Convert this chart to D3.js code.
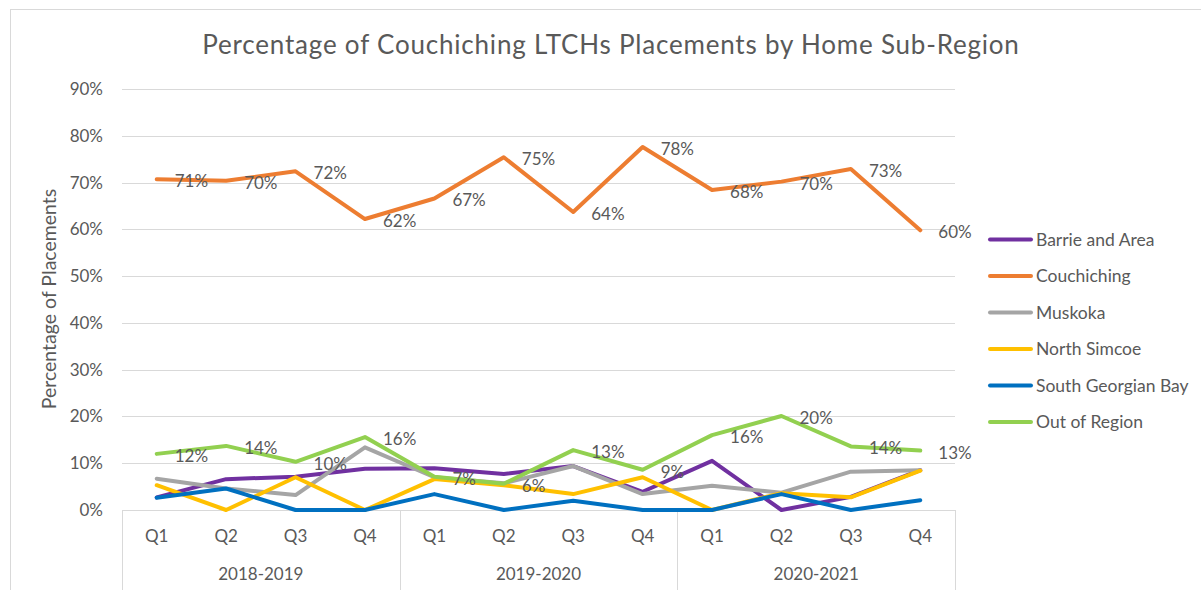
<!DOCTYPE html>
<html>
<head>
<meta charset="utf-8">
<script src="https://cdn.jsdelivr.net/npm/d3@7"></script>
<style>
  body { margin: 0; background: #fff; }
  text { font-family: Lato, "Open Sans", sans-serif; fill: #595959; }
</style>
</head>
<body>
<svg id="chart" width="1201" height="590"></svg>
<script>
const quarters = ["Q1", "Q2", "Q3", "Q4"];
const years = ["2018-2019", "2019-2020", "2020-2021"];
const yTicks = [0, 10, 20, 30, 40, 50, 60, 70, 80, 90];

// percent values
const barrie      = [2.7, 6.6, 7.1, 8.8, 8.9, 7.7, 9.4, 3.9, 10.5, 0, 2.8, 8.5];
const couchiching = [70.7, 70.4, 72.4, 62.2, 66.6, 75.4, 63.7, 77.6, 68.4, 70.2, 72.9, 59.8];
const muskoka     = [6.7, 4.6, 3.2, 13.4, 7.0, 5.7, 9.4, 3.4, 5.2, 3.7, 8.2, 8.5];
const northSimcoe = [5.3, 0, 7.0, 0, 6.6, 5.3, 3.4, 7.0, 0, 3.6, 2.7, 8.4];
const southGB     = [2.6, 4.6, 0, 0, 3.4, 0, 2.0, 0, 0, 3.4, 0, 2.1];
const outRegion   = [12.0, 13.7, 10.3, 15.6, 7.1, 5.6, 12.8, 8.6, 16.0, 20.1, 13.6, 12.7];

const series = [
  { name: "Barrie and Area", values: barrie, color: "#7030A0", labels: false },
  { name: "Couchiching", values: couchiching, color: "#ED7D31", labels: true },
  { name: "Muskoka", values: muskoka, color: "#A5A5A5", labels: false },
  { name: "North Simcoe", values: northSimcoe, color: "#FFC000", labels: false },
  { name: "South Georgian Bay", values: southGB, color: "#0070C0", labels: false },
  { name: "Out of Region", values: outRegion, color: "#92D050", labels: true }
];

const cats = [];
years.forEach(y => quarters.forEach(q => cats.push(y + " " + q)));

const svg = d3.select("#chart");

// outer frame
svg.append("rect")
  .attr("x", 10.5).attr("y", 9.5)
  .attr("width", 1300).attr("height", 700)
  .attr("fill", "none").attr("stroke", "#d9d9d9");

const plotLeft = 122, plotRight = 955, plotTop = 89, plotBottom = 510;

const x = d3.scaleBand().domain(cats).range([plotLeft, plotRight]);
const y = d3.scaleLinear().domain([0, 90]).range([plotBottom, plotTop]);
const cx = i => x(cats[i]) + x.bandwidth() / 2;

// gridlines
svg.append("g")
  .selectAll("line")
  .data(yTicks.filter(d => d > 0))
  .join("line")
  .attr("x1", plotLeft).attr("x2", plotRight)
  .attr("y1", d => Math.round(y(d)) + 0.5).attr("y2", d => Math.round(y(d)) + 0.5)
  .attr("stroke", "#d9d9d9");

// y tick labels
svg.append("g")
  .selectAll("text")
  .data(yTicks)
  .join("text")
  .attr("x", 103)
  .attr("y", d => y(d))
  .attr("dy", "0.35em")
  .attr("text-anchor", "end")
  .style("font-size", "17px")
  .text(d => d + "%");

// y axis title
svg.append("text")
  .attr("transform", "translate(56,299) rotate(-90)")
  .attr("text-anchor", "middle")
  .style("font-size", "19.5px")
  .text("Percentage of Placements");

// title
svg.append("text")
  .attr("x", 611).attr("y", 54)
  .attr("text-anchor", "middle")
  .style("font-size", "26px")
  .style("letter-spacing", "0.8px")
  .text("Percentage of Couchiching LTCHs Placements by Home Sub-Region");

// category axis
const axis = svg.append("g").attr("stroke", "#d9d9d9").attr("fill", "none");
axis.append("line")
  .attr("x1", plotLeft).attr("x2", plotRight)
  .attr("y1", plotBottom + 0.5).attr("y2", plotBottom + 0.5);
d3.range(years.length + 1).forEach(k => {
  const xx = k < years.length ? x(cats[k * 4]) : plotRight;
  axis.append("line")
    .attr("x1", Math.round(xx) + 0.5).attr("x2", Math.round(xx) + 0.5)
    .attr("y1", plotBottom).attr("y2", 600);
});

svg.append("g")
  .selectAll("text")
  .data(cats)
  .join("text")
  .attr("x", (d, i) => cx(i))
  .attr("y", 536)
  .attr("dy", "0.35em")
  .attr("text-anchor", "middle")
  .style("font-size", "17px")
  .text(d => d.split(" ")[1]);

svg.append("g")
  .selectAll("text")
  .data(years)
  .join("text")
  .attr("x", (d, k) => (x(cats[k * 4]) + x(cats[k * 4 + 3]) + x.bandwidth()) / 2)
  .attr("y", 574)
  .attr("dy", "0.35em")
  .attr("text-anchor", "middle")
  .style("font-size", "17px")
  .text(d => d);

// lines
const line = d3.line()
  .x((d, i) => cx(i))
  .y(d => y(d));

svg.append("g")
  .selectAll("path")
  .data(series)
  .join("path")
  .attr("d", s => line(s.values))
  .attr("fill", "none")
  .attr("stroke", s => s.color)
  .attr("stroke-width", 4)
  .attr("stroke-linejoin", "round")
  .attr("stroke-linecap", "round");

// data labels
series.filter(s => s.labels).forEach(s => {
  svg.append("g")
    .selectAll("text")
    .data(s.values)
    .join("text")
    .attr("x", (d, i) => cx(i) + 18)
    .attr("y", d => y(d) + 2)
    .attr("dy", "0.35em")
    .style("font-size", "17px")
    .text(d => Math.round(d) + "%");
});

// legend
const legend = svg.append("g")
  .selectAll("g")
  .data(series)
  .join("g")
  .attr("transform", (d, i) => `translate(0, ${239.5 + i * 36.5})`);
legend.append("line")
  .attr("x1", 990).attr("x2", 1031)
  .attr("stroke", d => d.color)
  .attr("stroke-width", 4)
  .attr("stroke-linecap", "round");
legend.append("text")
  .attr("x", 1036)
  .attr("dy", "0.35em")
  .style("font-size", "17.5px")
  .text(d => d.name);
</script>
</body>
</html>
